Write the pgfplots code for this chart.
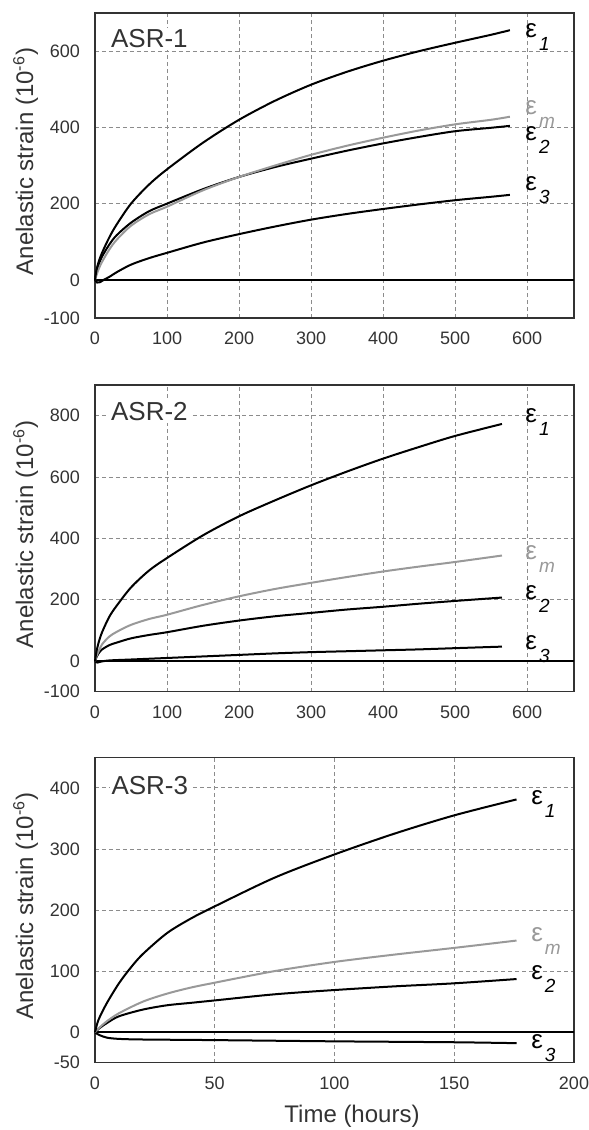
\documentclass[border=0pt]{standalone}
\usepackage{fontspec}
\setmainfont{Liberation Sans}
\usepackage{pgfplots}
\pgfplotsset{compat=1.18}
\definecolor{ink}{HTML}{333333}
\definecolor{gridgray}{HTML}{8C8C8C}
\definecolor{meangray}{HTML}{999999}

\newcommand{\eps}[1]{{\fontsize{13}{14}\selectfont ε}\kern1pt\raisebox{-6.5pt}{\fontsize{9.5}{10}\selectfont\itshape #1}}

\pgfplotsset{
  strainax/.style={
    scale only axis, width=239.5pt, xmin=0,
    axis line style={ink, line width=0.75pt},
    grid=major,
    major grid style={draw=gridgray, dash pattern=on 2pt off 1.5pt, line width=0.4pt},
    major tick length=0pt, minor tick num=0,
    ticklabel style={font=\fontsize{9}{10}\selectfont, text=ink},
    /pgf/number format/assume math mode=true,
    yticklabel style={xshift=-4pt},
    xticklabel style={yshift=-3.5pt},
    ylabel={Anelastic strain (10\textsuperscript{-6})},
    ylabel style={font=\fontsize{12}{14}\selectfont, text=ink,
      at={(axis description cs:-0.1294,0.513)}, anchor=base},
    clip=false,
    every axis plot/.append style={line width=1pt, no markers, smooth, tension=0.5},
  },
}
\tikzset{
  asr/.style={anchor=base west, fill=white, inner sep=1pt,
    font=\fontsize{13}{15}\selectfont, text=ink},
  epslab/.style={anchor=base west, inner sep=0pt, text=black},
}

% ASR-1
\pgfplotstableread{
t e1
0 0
2 25
5 47
10 72
20 112
30 145
50 200
75 250
100 290
150 360
200 420
250 470
300 512
350 546
400 575
450 600
500 622
550 643
576 655
}\aone
\pgfplotstableread{
t em
0 0
2 12
5 28
10 48
20 80
30 105
50 142
75 172
100 192
150 235
200 270
250 300
300 328
350 352
400 373
450 392
500 408
550 420
576 428
}\amean
\pgfplotstableread{
t e2
0 0
2 20
5 40
10 62
20 93
30 117
50 150
75 180
100 200
150 238
200 270
250 296
300 318
350 339
400 358
450 375
500 390
550 399
576 404
}\atwo
\pgfplotstableread{
t e3
0 0
3 -7
7 -6
12 0
20 8
30 20
50 40
75 57
100 71
150 98
200 120
250 140
300 158
350 173
400 186
450 198
500 209
550 218
576 223
}\athree

% ASR-2
\pgfplotstableread{
t e1
0 0
2 30
5 60
10 95
20 145
30 180
50 240
75 295
100 336
150 410
200 472
250 524
300 573
350 618
400 660
450 698
500 734
565 773
}\bone
\pgfplotstableread{
t em
0 0
2 15
5 32
10 55
20 80
30 95
50 118
75 137
100 151
150 183
200 211
250 235
300 255
350 274
400 292
450 308
500 323
565 344
}\bmean
\pgfplotstableread{
t e2
0 0
2 12
5 25
10 38
20 52
30 60
50 74
75 85
100 94
150 115
200 132
250 146
300 157
350 168
400 177
450 187
500 196
565 207
}\btwo
\pgfplotstableread{
t e3
0 0
3 -5
8 -2
20 2
50 5
100 10
150 15
200 20
250 25
300 29
350 32
400 35
450 38
500 42
565 47
}\bthree

% ASR-3
\pgfplotstableread{
t e1
0 0
1 15
2 25
5 48
10 80
15 106
20 128
30 162
40 186
50 206
75 253
100 291
125 325
150 355
176 381
}\cone
\pgfplotstableread{
t em
0 0
2 8
5 18
10 31
20 50
30 63
40 73
50 81
75 100
100 115
125 127
150 138
176 150
}\cmean
\pgfplotstableread{
t e2
0 0
2 7
5 15
10 26
20 37
30 44
40 48
50 52
75 62
100 69
125 75
150 80
176 87
}\ctwo
\pgfplotstableread{
t e3
0 0
1 -3
2 -5
5 -9
10 -11
20 -12
50 -13
100 -15
150 -16.5
176 -18
}\cthree

\begin{document}
\begin{tikzpicture}
\path[use as bounding box] (0,0) rectangle (294.5pt,-565pt);

\begin{axis}[strainax, at={(47.5pt,-159pt)}, anchor=south west,
  height=152.5pt, xmax=665, ymin=-100, ymax=700,
  xtick={0,100,...,600}, ytick={-100,0,200,400,600}]
\addplot[black, sharp plot] coordinates {(0,0) (665,0)};
\addplot[black] table[x=t,y=e3] {\athree};
\addplot[black] table[x=t,y=e2] {\atwo};
\addplot[meangray] table[x=t,y=em] {\amean};
\addplot[black] table[x=t,y=e1] {\aone};
\node[asr] at (axis cs:19,609) {ASR-1};
\node[epslab] at (axis cs:597,636) {\eps{1}};
\node[epslab, text=meangray] at (axis cs:597,434) {\eps{m}};
\node[epslab] at (axis cs:597,366) {\eps{2}};
\node[epslab] at (axis cs:597,235) {\eps{3}};
\end{axis}

\begin{axis}[strainax, at={(47.5pt,-345.85pt)}, anchor=south west,
  height=153.35pt, xmax=665, ymin=-100, ymax=900,
  xtick={0,100,...,600}, ytick={-100,0,200,400,600,800}]
\addplot[black, sharp plot] coordinates {(0,0) (665,0)};
\addplot[black] table[x=t,y=e3] {\bthree};
\addplot[black] table[x=t,y=e2] {\btwo};
\addplot[meangray] table[x=t,y=em] {\bmean};
\addplot[black] table[x=t,y=e1] {\bone};
\node[asr] at (axis cs:19,784) {ASR-2};
\node[epslab] at (axis cs:597,778) {\eps{1}};
\node[epslab, text=meangray] at (axis cs:597,332) {\eps{m}};
\node[epslab] at (axis cs:597,201) {\eps{2}};
\node[epslab] at (axis cs:597,38) {\eps{3}};
\end{axis}

\begin{axis}[strainax, at={(47.5pt,-531.35pt)}, anchor=south west,
  height=152.7pt, xmax=200, ymin=-50, ymax=450,
  xtick={0,50,...,200}, ytick={-50,0,100,200,300,400},
  xlabel={Time (hours)},
  xlabel style={font=\fontsize{12}{14}\selectfont, text=ink,
    at={(axis description cs:0.5365,-0.197)}, anchor=base}]
\addplot[black, sharp plot] coordinates {(0,0) (200,0)};
\addplot[black] table[x=t,y=e3] {\cthree};
\addplot[black] table[x=t,y=e2] {\ctwo};
\addplot[meangray] table[x=t,y=em] {\cmean};
\addplot[black] table[x=t,y=e1] {\cone};
\node[asr] at (axis cs:5.9,389) {ASR-3};
\node[epslab] at (axis cs:182,373) {\eps{1}};
\node[epslab, text=meangray] at (axis cs:182,149) {\eps{m}};
\node[epslab] at (axis cs:182,87) {\eps{2}};
\node[epslab] at (axis cs:182,-27) {\eps{3}};
\end{axis}
\end{tikzpicture}
\end{document}
